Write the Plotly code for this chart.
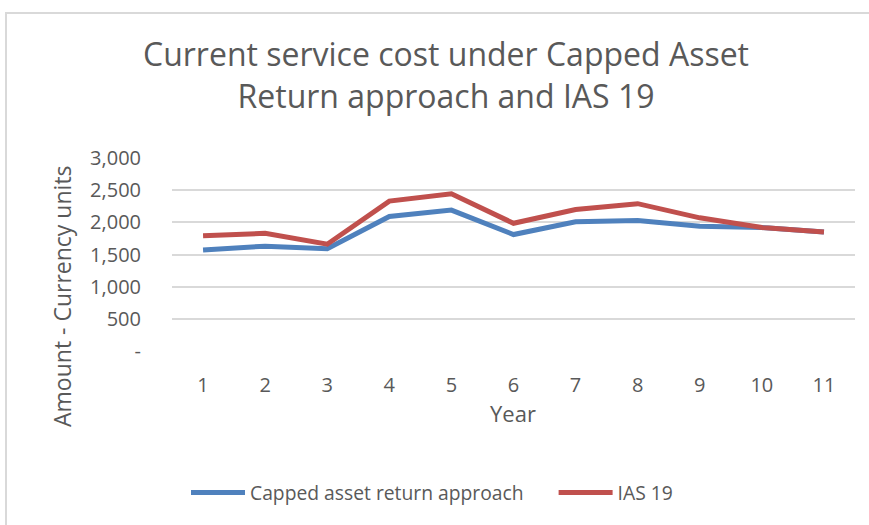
import plotly.graph_objects as go

years = [1, 2, 3, 4, 5, 6, 7, 8, 9, 10, 11]
capped = [1570, 1630, 1590, 2090, 2190, 1810, 2010, 2030, 1940, 1920, 1850]
ias19 = [1790, 1830, 1660, 2330, 2445, 1985, 2200, 2290, 2070, 1920, 1850]
ytick_vals = [0, 500, 1000, 1500, 2000, 2500, 3000]
ytick_text = ["-", "500", "1,000", "1,500", "2,000", "2,500", "3,000"]
series_names = ["Capped asset return approach", "IAS 19"]

FONT = "Open Sans"
GRAY = "#595959"

W, H = 869, 525
PL, PR, PT, PB = 172, 855, 158, 351  # plot area in page pixels
L, T, R, B = PL, PT, W - PR, H - PB
pw, ph = W - L - R, H - T - B


def px(x):  # page x -> paper
    return (x - L) / pw


def py(y):  # page y -> paper
    return (H - B - y) / ph


def cx(x):  # page x -> container
    return x / W


def cy(y):  # page y -> container
    return 1 - y / H


fig = go.Figure()
fig.add_trace(go.Scatter(x=years, y=capped, mode="lines",
                         name=series_names[0] + "\u00a0" * 5,
                         line=dict(color="#4F81BD", width=5)))
fig.add_trace(go.Scatter(x=years, y=ias19, mode="lines", name=series_names[1],
                         line=dict(color="#C0504D", width=5)))

fig.update_layout(
    width=W, height=H,
    margin=dict(l=L, r=R, t=T, b=B, autoexpand=False),
    paper_bgcolor="white", plot_bgcolor="white",
    font=dict(family=FONT, color=GRAY, size=20),
    title=dict(text="Current service cost under Capped Asset<br>Return approach and IAS 19",
               x=cx(446), xanchor="center", xref="container",
               y=cy(66), yanchor="middle", yref="container",
               font=dict(family=FONT, size=32, color=GRAY)),
    xaxis=dict(range=[0.5, 11.5], tickvals=years, ticktext=[str(y) for y in years],
               showgrid=False, zeroline=False, showline=False, ticks="",
               ticklabelstandoff=20, tickfont=dict(size=20, color=GRAY)),
    yaxis=dict(range=[0, 3000], tickvals=ytick_vals, ticktext=ytick_text,
               showgrid=True, gridcolor="#D9D9D9", gridwidth=1.5, zeroline=False,
               showline=False, ticks="", ticklabelstandoff=30,
               tickfont=dict(size=20, color=GRAY)),
    showlegend=True,
    legend=dict(orientation="h", xref="container", x=cx(186), xanchor="left",
                yref="container", y=cy(493), yanchor="middle",
                font=dict(size=19.3, color=GRAY), itemwidth=54, traceorder="normal",
                bgcolor="rgba(0,0,0,0)"),
    shapes=[dict(type="rect", xref="paper", yref="paper",
                 x0=px(6), x1=px(890), y0=py(540), y1=py(13),
                 line=dict(color="#D9D9D9", width=2), fillcolor="rgba(0,0,0,0)", layer="below")],
    annotations=[
        dict(text="Year", xref="paper", yref="paper", x=px(513), y=py(413), showarrow=False,
             xanchor="center", yanchor="middle", font=dict(size=22, color=GRAY)),
        dict(text="Amount - Currency units", xref="paper", yref="paper", x=px(62), y=py(296),
             showarrow=False, textangle=-90, xanchor="center", yanchor="middle",
             font=dict(size=23, color=GRAY)),
    ],
)

fig.write_html("out.html", config={"displayModeBar": False},
               post_script="document.body.style.margin='0';")
